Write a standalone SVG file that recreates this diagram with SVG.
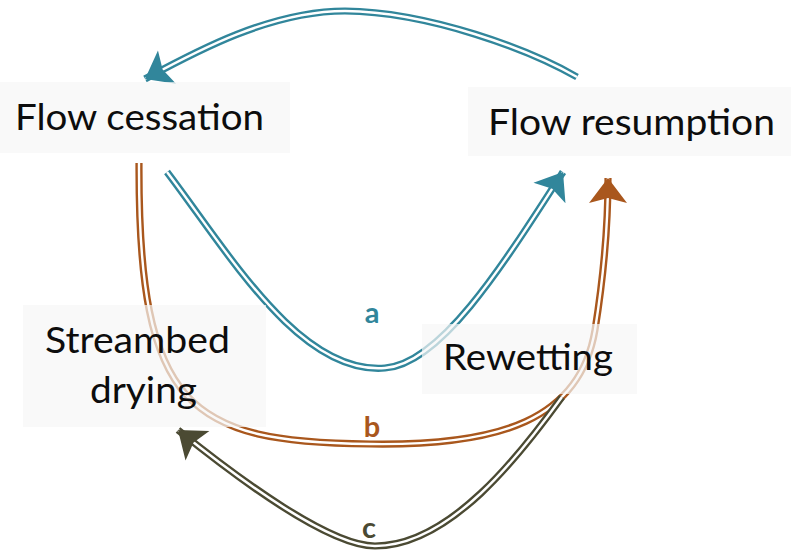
<svg xmlns="http://www.w3.org/2000/svg" width="791" height="551" viewBox="0 0 791 551">
<style>
  .box{fill:#F6F6F6;fill-opacity:0.7}
  .lbl{font-family:Lato,"Open Sans","Liberation Sans",sans-serif;font-size:37px;fill:#0d0d0d}
  .tag{font-family:Lato,"Open Sans","Liberation Sans",sans-serif;font-size:29px;font-weight:bold;text-anchor:middle}
  .outer{fill:none;stroke-width:7.2}
  .inner{fill:none;stroke:#ffffff;stroke-width:2.4}
  .teal{stroke:#31869B}
  .brown{stroke:#A9571D}
  .olive{stroke:#4B4A33}
</style>
<defs>
  <marker id="ah-teal" markerUnits="userSpaceOnUse" viewBox="-28 -21 30 42" refX="0" refY="0" markerWidth="30" markerHeight="42" orient="auto" overflow="visible">
    <path d="M0,0 L-25,-19 L-20,0 L-25,19 Z" fill="#31869B"/>
  </marker>
  <marker id="ah-brown" markerUnits="userSpaceOnUse" viewBox="-28 -21 30 42" refX="0" refY="0" markerWidth="30" markerHeight="42" orient="auto" overflow="visible">
    <path d="M0,0 L-25,-19 L-20,0 L-25,19 Z" fill="#A9571D"/>
  </marker>
  <marker id="ah-olive" markerUnits="userSpaceOnUse" viewBox="-28 -21 30 42" refX="0" refY="0" markerWidth="30" markerHeight="42" orient="auto" overflow="visible">
    <path d="M0,0 L-25,-19 L-20,0 L-25,19 Z" fill="#4B4A33"/>
  </marker>
</defs>
<rect x="0" y="0" width="791" height="551" fill="#ffffff"/>
<g id="connectors">
  <g id="edge-top">
    <path class="outer teal" d="M577,77 C530,50 430,12 345,11 C270,11 195,52 145,79"/>
    <path class="inner" d="M577,77 C530,50 430,12 345,11 C270,11 195,52 145,79" marker-end="url(#ah-teal)"/>
  </g>
  <g id="edge-a">
    <path class="outer teal" d="M167,172 C230,255 300,375 385,368 C440,364 500,270 563,172"/>
    <path class="inner" d="M167,172 C230,255 300,375 385,368 C440,364 500,270 563,172" marker-end="url(#ah-teal)"/>
    <text class="tag" x="372" y="323" fill="#31869B">a</text>
  </g>
  <g id="edge-b">
    <path class="outer brown" d="M139,163 C138,410 190,442 370,444 C500,446 580,420 595,330 C603,280 608,230 608,178"/>
    <path class="inner" d="M139,163 C138,410 190,442 370,444 C500,446 580,420 595,330 C603,280 608,230 608,178" marker-end="url(#ah-brown)"/>
    <text class="tag" x="372" y="437" fill="#A9571D">b</text>
  </g>
  <g id="edge-c">
    <path class="outer olive" d="M562,397 C520,455 450,546 375,546 C330,546 240,480 178,430"/>
    <path class="inner" d="M562,397 C520,455 450,546 375,546 C330,546 240,480 178,430" marker-end="url(#ah-olive)"/>
    <text class="tag" x="369" y="538" fill="#4B4A33">c</text>
  </g>
</g>
<g id="node-flow-cessation">
  <rect class="box" x="0" y="82" width="290" height="71"/>
  <text class="lbl" x="15" y="130" textLength="249" lengthAdjust="spacingAndGlyphs">Flow cessation</text>
</g>
<g id="node-flow-resumption">
  <rect class="box" x="468" y="87" width="323" height="69"/>
  <text class="lbl" x="488" y="135" textLength="287" lengthAdjust="spacingAndGlyphs">Flow resumption</text>
</g>
<g id="node-streambed-drying">
  <rect class="box" x="23" y="305" width="243" height="122"/>
  <text class="lbl" x="45" y="353" textLength="185" lengthAdjust="spacingAndGlyphs">Streambed</text>
  <text class="lbl" x="90" y="403" textLength="107" lengthAdjust="spacingAndGlyphs">drying</text>
</g>
<g id="node-rewetting">
  <rect class="box" x="422" y="324" width="215" height="70"/>
  <text class="lbl" x="443" y="370" textLength="170" lengthAdjust="spacingAndGlyphs">Rewetting</text>
</g>
</svg>
